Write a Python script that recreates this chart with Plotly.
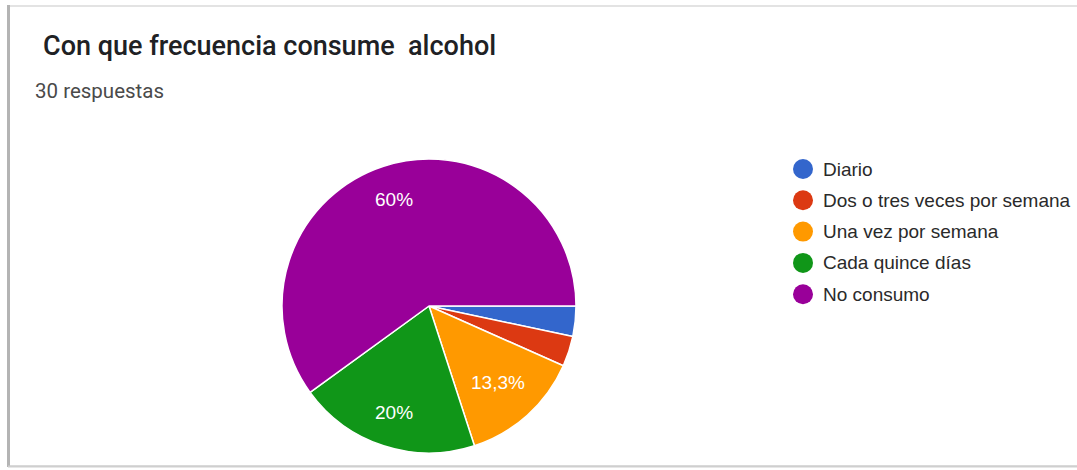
import math
import plotly.graph_objects as go

W, H = 1077, 470

# Survey responses (30 total)
categories = ["Diario", "Dos o tres veces por semana", "Una vez por semana",
              "Cada quince días", "No consumo"]
counts = [1, 1, 4, 6, 18]
colors = ["#3366cc", "#dc3912", "#ff9900", "#109618", "#990099"]

title_text = "Con que frecuencia consume \u00a0alcohol"
subtitle_text = "30 respuestas"

total = sum(counts)


def pct_label(v):
    p = 100 * v / total
    if p < 5:
        return ""
    s = f"{p:.1f}".rstrip("0").rstrip(".")
    return s.replace(".", ",") + "%"


labels_txt = [pct_label(v) for v in counts]
# radial placement of each percentage label, as a fraction of the radius
label_radius = [0.75, 0.75, 0.70, 0.76, 0.76]


def px(x):
    return x / W


def py(y):
    return 1 - y / H


fig = go.Figure()

cx, cy, r = 429, 306, 147
fig.add_trace(go.Pie(
    labels=categories,
    values=counts,
    textinfo="none",
    marker=dict(colors=colors, line=dict(color="white", width=1.5)),
    sort=False,
    direction="clockwise",
    rotation=90,
    showlegend=False,
    hoverinfo="label+percent",
    domain=dict(x=[px(cx - r), px(cx + r)], y=[py(cy + r), py(cy - r)]),
))

shapes = [
    # card outline
    dict(type="rect", xref="paper", yref="paper",
         x0=px(8), x1=px(1100), y0=py(466), y1=py(6),
         line=dict(color="#dadada", width=1.5), fillcolor="rgba(0,0,0,0)", layer="below"),
    dict(type="line", xref="paper", yref="paper",
         x0=px(8.5), x1=px(8.5), y0=py(467), y1=py(5),
         line=dict(color="#b4b4b4", width=3)),
    dict(type="line", xref="paper", yref="paper",
         x0=px(8), x1=px(1100), y0=py(466.5), y1=py(466.5),
         line=dict(color="#cfcfcf", width=2)),
]

annotations = [
    dict(text=title_text, xref="paper", yref="paper", x=px(41), y=py(46),
         xanchor="left", yanchor="middle", showarrow=False,
         font=dict(family="Roboto", size=27, color="#202124", weight=500)),
    dict(text=subtitle_text, xref="paper", yref="paper", x=px(33), y=py(91),
         xanchor="left", yanchor="middle", showarrow=False,
         font=dict(family="Roboto", size=20.5, color="#4a4a4a")),
]

# Percentage labels placed along each slice's mid-angle
acc = 0
for v, txt, fr in zip(counts, labels_txt, label_radius):
    mid = (acc + v / 2) / total * 2 * math.pi  # clockwise from 3 o'clock
    acc += v
    if not txt:
        continue
    lx = cx + fr * r * math.cos(mid)
    ly = cy + fr * r * math.sin(mid)
    annotations.append(dict(text=txt, xref="paper", yref="paper",
                            x=px(lx), y=py(ly), xanchor="center", yanchor="middle",
                            showarrow=False,
                            font=dict(family="Liberation Sans, Arial, sans-serif",
                                      size=19, color="white")))

# Legend: coloured dots with category names
leg_x, leg_y0, leg_dy = 803, 169, 31.3
for i, (name, col) in enumerate(zip(categories, colors)):
    yy = leg_y0 + i * leg_dy
    shapes.append(dict(type="circle", xref="paper", yref="paper",
                       xsizemode="pixel", ysizemode="pixel",
                       xanchor=px(leg_x), yanchor=py(yy),
                       x0=-10, x1=10, y0=-10, y1=10,
                       fillcolor=col, line=dict(width=0)))
    annotations.append(dict(text=name, xref="paper", yref="paper",
                            x=px(leg_x + 18), y=py(yy), xanchor="left", yanchor="middle",
                            showarrow=False,
                            font=dict(family="Liberation Sans, Arial, sans-serif",
                                      size=19, color="#2a2a2a")))

fig.update_layout(
    width=W, height=H,
    margin=dict(l=0, r=0, t=0, b=0),
    paper_bgcolor="white",
    plot_bgcolor="white",
    shapes=shapes,
    annotations=annotations,
)

fig.write_html("out.html")
